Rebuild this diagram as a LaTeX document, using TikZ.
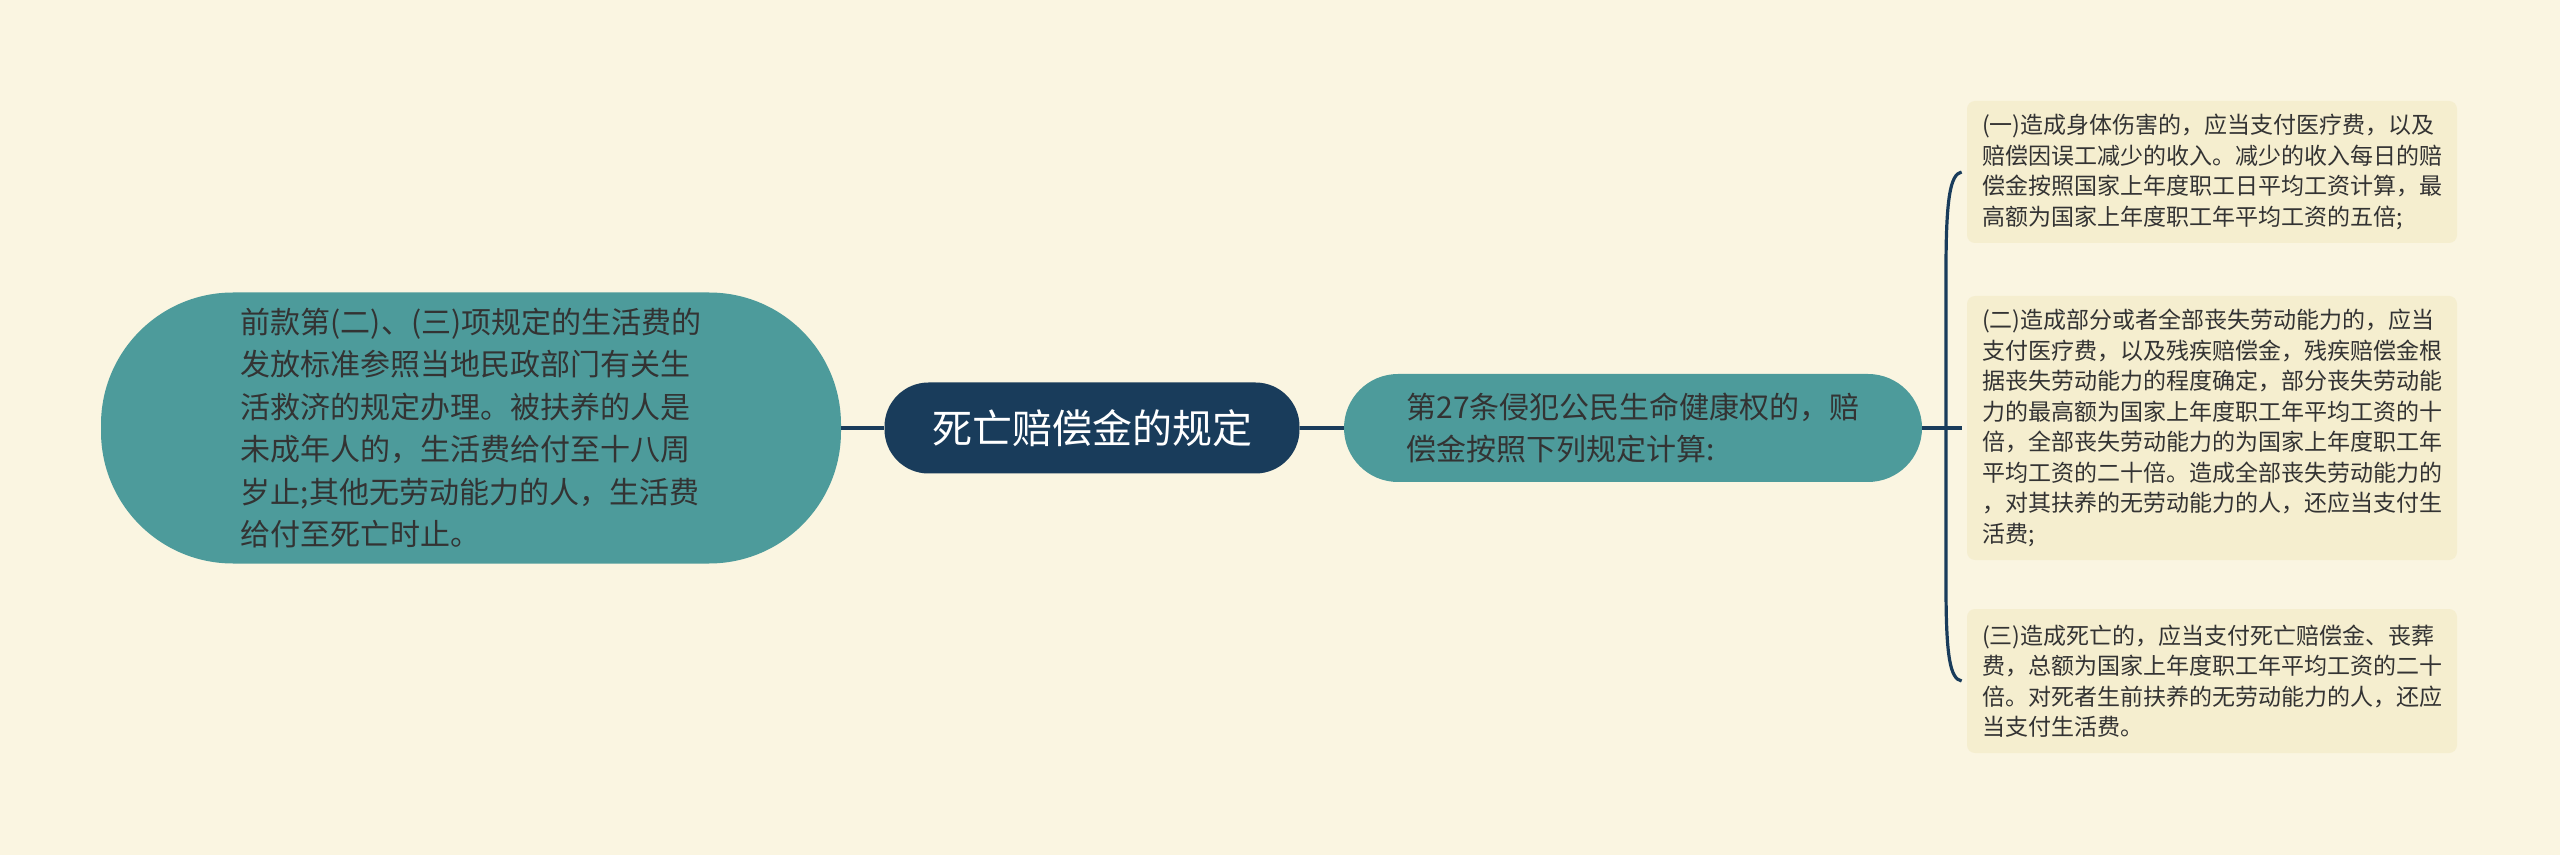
\documentclass[tikz,border=0pt]{standalone}
\usepackage{fontspec}
\newfontfamily\cjk{Noto Sans CJK SC}
\definecolor{bg}{HTML}{FAF5E1}
\definecolor{teal}{HTML}{4D9B9B}
\definecolor{navy}{HTML}{193C5B}
\definecolor{leaf}{HTML}{F5EECF}
\definecolor{txt}{HTML}{333333}
\tikzset{
  conn/.style={draw=navy, line width=1.6pt},
  bignode/.style={fill=teal, text=txt, align=left, font=\cjk\fontsize{15pt}{21.25pt}\selectfont, inner sep=0pt},
  rootnode/.style={fill=navy, text=white, align=center, font=\cjk\fontsize{20pt}{24pt}\selectfont, inner sep=0pt, minimum width=207.5pt, minimum height=45.5pt, rounded corners=22pt},
  leafnode/.style={fill=leaf, text=txt, align=left, font=\cjk\fontsize{11.5pt}{15.25pt}\selectfont, inner sep=0pt, minimum width=245pt, rounded corners=4pt}
}
\begin{document}
\begin{tikzpicture}[x=0.5pt,y=-0.5pt]
\fill[bg] (0,0) rectangle (2560,855);
\useasboundingbox (0,0) rectangle (2560,855);
\node[bignode, minimum width=370pt, minimum height=135.5pt, rounded corners=66pt] (L) at (471,428) {前款第(二)、(三)项规定的生活费的\\发放标准参照当地民政部门有关生\\活救济的规定办理。被扶养的人是\\未成年人的，生活费给付至十八周\\岁止;其他无劳动能力的人，生活费\\给付至死亡时止。};
\node[rootnode] (C) at (1092,428) {死亡赔偿金的规定};
\node[bignode, minimum width=289pt, minimum height=54pt, rounded corners=27pt] (R) at (1633,428) {第27条侵犯公民生命健康权的，赔\\偿金按照下列规定计算:};
\node[leafnode, minimum height=71pt] (B1) at (2212,172) {(一)造成身体伤害的，应当支付医疗费，以及\\赔偿因误工减少的收入。减少的收入每日的赔\\偿金按照国家上年度职工日平均工资计算，最\\高额为国家上年度职工年平均工资的五倍;};
\node[leafnode, minimum height=132pt] (B2) at (2212,428) {(二)造成部分或者全部丧失劳动能力的，应当\\支付医疗费，以及残疾赔偿金，残疾赔偿金根\\据丧失劳动能力的程度确定，部分丧失劳动能\\力的最高额为国家上年度职工年平均工资的十\\倍，全部丧失劳动能力的为国家上年度职工年\\平均工资的二十倍。造成全部丧失劳动能力的\\，对其扶养的无劳动能力的人，还应当支付生\\活费;};
\node[leafnode, minimum height=72pt] (B3) at (2212,681) {(三)造成死亡的，应当支付死亡赔偿金、丧葬\\费，总额为国家上年度职工年平均工资的二十\\倍。对死者生前扶养的无劳动能力的人，还应\\当支付生活费。};
\coordinate (J) at (1946,428);
\coordinate (Jt) at (1946,270);
\coordinate (Jb) at (1946,586);
\draw[conn] (L.east) -- (C.west);
\draw[conn] (C.east) -- (R.west);
\draw[conn] (R.east) -- (J) -- ([xshift=-2.5pt]B2.west);
\draw[conn] (J) -- (Jt) .. controls (1946,200) and (1950,174) .. ([xshift=-2.5pt]B1.west);
\draw[conn] (J) -- (Jb) .. controls (1946,656) and (1950,679) .. ([xshift=-2.5pt]B3.west);
\end{tikzpicture}
\end{document}
